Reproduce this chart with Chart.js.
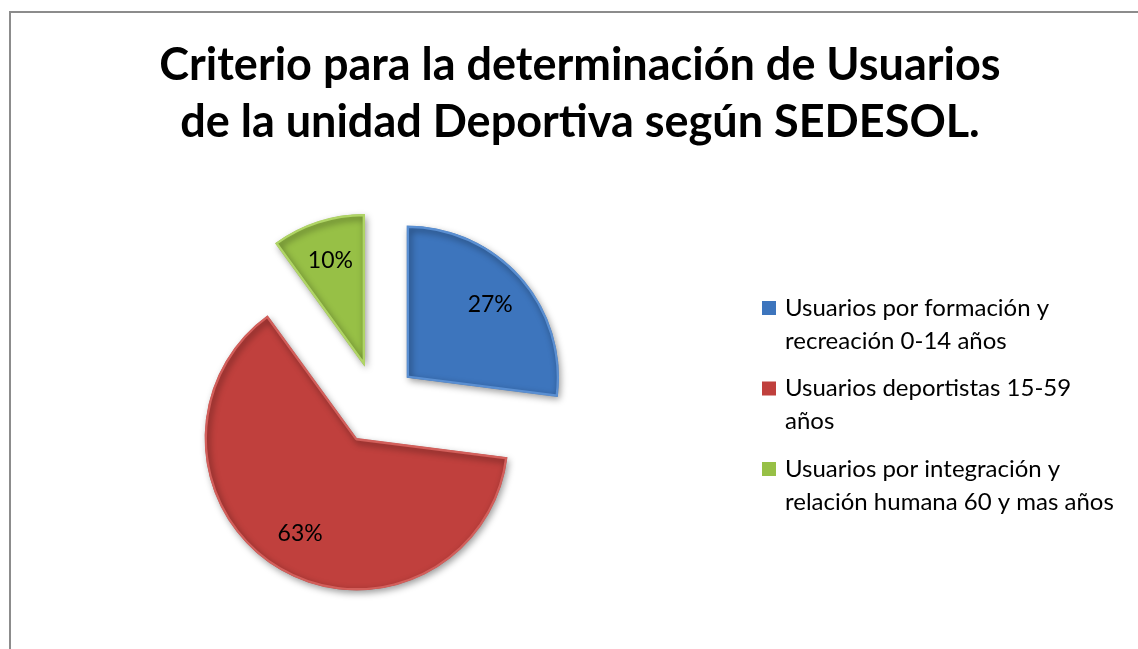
<!DOCTYPE html>
<html>
<head>
<meta charset="utf-8">
<title>Criterio para la determinación de Usuarios</title>
<script src="https://cdn.jsdelivr.net/npm/chart.js@4.4.0/dist/chart.umd.min.js"></script>
<style>
  html, body { margin: 0; padding: 0; background: #fff; }
  #chart { display: block; }
</style>
</head>
<body>
<canvas id="chart" width="1138" height="649"></canvas>
<script>
// chart data
const titleLines = ['Criterio para la determinación de Usuarios', 'de la unidad Deportiva según SEDESOL.'];
const categories = [
  ['Usuarios por formación y', 'recreación 0-14 años'],
  ['Usuarios deportistas 15-59', 'años'],
  ['Usuarios por integración y', 'relación humana 60 y mas años']
];
const shares = [27, 63, 10];
const colors = ['#3d75bd', '#c0403d', '#97c046'];
const edgeColors = ['#5a8fd2', '#d35f5b', '#b0d566'];

const EXPLODE = 40;
const FONT = 'Lato, "Open Sans", sans-serif';

// white background, grey frame and the two-line title
const frame = {
  id: 'frame',
  beforeDraw(chart) {
    const ctx = chart.ctx;
    ctx.save();
    ctx.fillStyle = '#fff';
    ctx.fillRect(0, 0, chart.width, chart.height);
    ctx.strokeStyle = '#8c8c8c';
    ctx.lineWidth = 2;
    ctx.strokeRect(10, 12, chart.width + 20, chart.height + 20);
    ctx.fillStyle = '#000';
    ctx.font = 'bold 45px ' + FONT;
    ctx.textAlign = 'center';
    ctx.textBaseline = 'alphabetic';
    titleLines.forEach((t, i) => ctx.fillText(t, 580, 80 + i * 57));
    ctx.restore();
  }
};

// draw every slice pulled out from the centre, with a soft shadow
const explode = {
  id: 'explode',
  beforeDatasetDraw(chart, args) {
    const ctx = chart.ctx;
    args.meta.data.forEach(arc => {
      const mid = (arc.startAngle + arc.endAngle) / 2;
      ctx.save();
      ctx.translate(Math.cos(mid) * EXPLODE, Math.sin(mid) * EXPLODE);
      ctx.shadowColor = 'rgba(0,0,0,0.4)';
      ctx.shadowBlur = 7;
      ctx.shadowOffsetX = 2;
      ctx.shadowOffsetY = 3;
      arc.draw(ctx);
      ctx.restore();
    });
    return false;
  },
  afterDatasetsDraw(chart) {
    const ctx = chart.ctx;
    const meta = chart.getDatasetMeta(0);
    const values = chart.data.datasets[0].data;
    ctx.save();
    ctx.font = '23px ' + FONT;
    ctx.fillStyle = '#000';
    ctx.textAlign = 'center';
    ctx.textBaseline = 'middle';
    meta.data.forEach((arc, i) => {
      const mid = (arc.startAngle + arc.endAngle) / 2;
      const d = EXPLODE + arc.outerRadius * 0.73;
      ctx.fillText(values[i] + '%', arc.x + Math.cos(mid) * d, arc.y + Math.sin(mid) * d);
    });
    ctx.restore();
  }
};

// legend on the right with wrapped labels
const sideLegend = {
  id: 'sideLegend',
  afterDraw(chart) {
    const ctx = chart.ctx;
    const bg = chart.data.datasets[0].backgroundColor;
    ctx.save();
    ctx.font = '24px ' + FONT;
    ctx.textAlign = 'left';
    ctx.textBaseline = 'middle';
    chart.data.labels.forEach((lines, i) => {
      const y0 = 308 + i * 80.5;
      ctx.fillStyle = bg[i];
      ctx.fillRect(762, y0 - 7, 14, 14);
      ctx.fillStyle = '#000';
      lines.forEach((line, j) => ctx.fillText(line, 785, y0 + j * 33));
    });
    ctx.restore();
  }
};

new Chart(document.getElementById('chart'), {
  type: 'pie',
  data: {
    labels: categories,
    datasets: [{
      data: shares,
      backgroundColor: colors,
      borderColor: edgeColors,
      borderWidth: 2,
      borderAlign: 'inner',
      radius: 152
    }]
  },
  options: {
    responsive: false,
    animation: false,
    devicePixelRatio: 1,
    layout: { padding: { left: 205, right: 589, top: 232, bottom: 73 } },
    plugins: {
      legend: { display: false },
      title: { display: false },
      tooltip: { enabled: false }
    }
  },
  plugins: [frame, explode, sideLegend]
});
</script>
</body>
</html>
